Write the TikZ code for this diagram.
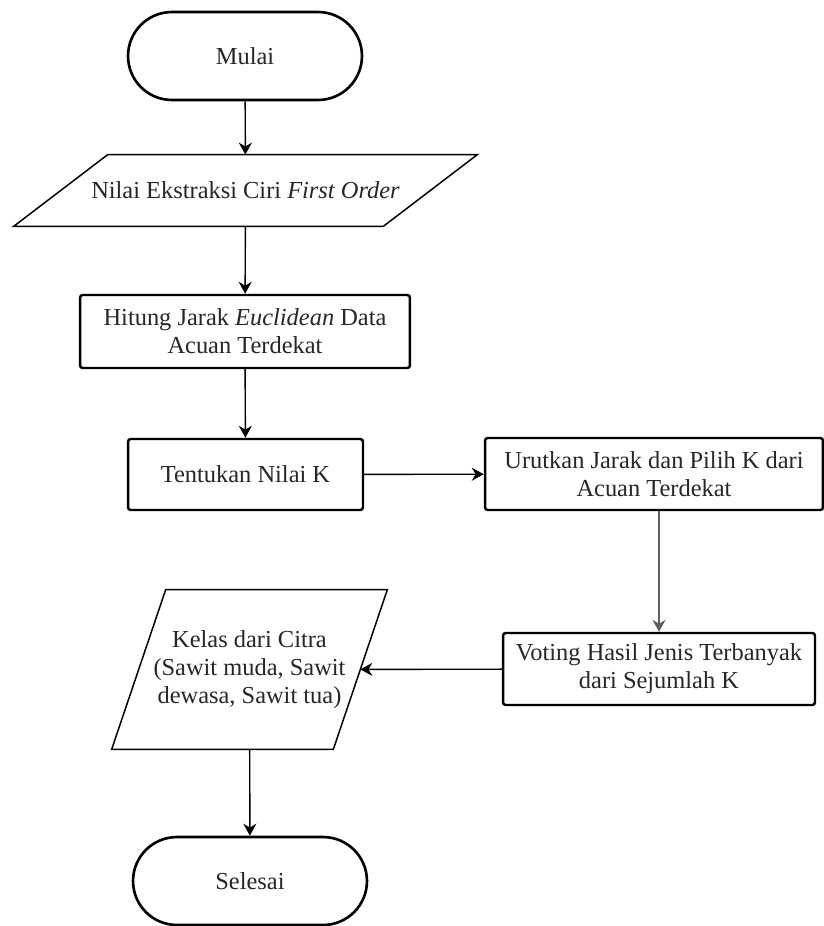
\documentclass[tikz,border=0pt]{standalone}
\usepackage{fontspec}
\setmainfont{Liberation Serif}
\usepackage{tikz}
\usetikzlibrary{arrows.meta, positioning, calc}
\definecolor{TextColor}{RGB}{38,38,38}
\definecolor{ArrowGray}{RGB}{95,95,95}
\tikzstyle{terminal} = [draw, line width=1.5pt, rounded corners=0.88cm, minimum width=4.68cm, minimum height=1.76cm, text=TextColor, font=\fontsize{13.9}{16}\selectfont]
\tikzstyle{process} = [draw, line width=1.4pt, rounded corners=1.5pt, inner sep=2pt, align=center, text=TextColor, font=\fontsize{13.9}{16}\selectfont]
\tikzstyle{io} = [inner sep=2pt, align=center, text=TextColor, font=\fontsize{13.9}{16}\selectfont]
\tikzstyle{arrow} = [line width=0.8pt, -{Stealth[length=0.24cm, width=0.26cm]}]

\begin{document}
\begin{tikzpicture}[x=0.02cm, y=-0.02cm]
    \useasboundingbox (0,0) rectangle (824,926);

    % main column
    \node[terminal] (mulai) at (245,56) {Mulai};
    \node[io, minimum width=7.38cm, minimum height=1.42cm] (input) at (245.5,190.5) {Nilai Ekstraksi Ciri \textit{First Order}};
    \draw[line width=0.85pt] ($(input.south west)+(-47,0)$) -- ($(input.north west)+(47,0)$) -- ($(input.north east)+(47,0)$) -- ($(input.south east)+(-47,0)$) -- cycle;
    \node[process, minimum width=6.6cm, minimum height=1.46cm] (hitung) at (245,331.5) {Hitung Jarak \textit{Euclidean} Data\\Acuan Terdekat};
    \node[process, minimum width=4.7cm, minimum height=1.42cm] (tentukan) at (245.5,474.5) {Tentukan Nilai K};

    % right column
    \node[process, minimum width=6.76cm, minimum height=1.44cm] (urutkan) at (654,474) {Urutkan Jarak dan Pilih K dari\\Acuan Terdekat};
    \node[process, minimum width=6.24cm, minimum height=1.44cm] (vote) at (659,669) {Voting Hasil Jenis Terbanyak\\dari Sejumlah K};

    % output
    \node[io, minimum width=4.42cm, minimum height=3.18cm] (kelas) at (249.5,669.5) {Kelas dari Citra\\(Sawit muda, Sawit\\dewasa, Sawit tua)};
    \draw[line width=0.85pt] ($(kelas.south west)+(-27,0)$) -- ($(kelas.north west)+(27,0)$) -- ($(kelas.north east)+(27,0)$) -- ($(kelas.south east)+(-27,0)$) -- cycle;
    \node[terminal] (selesai) at (250,881) {Selesai};

    % connectors
    \draw[arrow] (mulai) -- (input);
    \draw[arrow] (input) -- (hitung);
    \draw[arrow] (hitung) -- (tentukan);
    \draw[arrow] (tentukan) -- (urutkan);
    \draw[arrow, ArrowGray] (urutkan.south -| vote.north) -- (vote.north);
    \draw[arrow] (vote) -- (kelas);
    \draw[arrow] (kelas) -- (selesai);
\end{tikzpicture}
\end{document}
